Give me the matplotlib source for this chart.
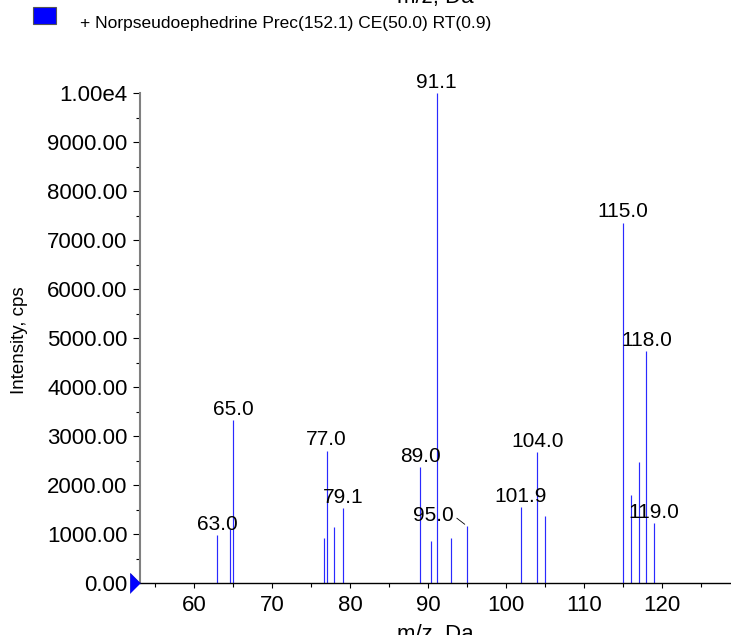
#!/bin/env python3

'''
Product ion spectrum for Norpseudoephedrine (stick plot with peak labels)
'''

import matplotlib
matplotlib.use("Agg")
import matplotlib.pyplot as plt
from matplotlib.patches import Rectangle
from matplotlib.ticker import MultipleLocator, FuncFormatter


##############################################################
# Data
##############################################################
mz = [63.0, 64.6, 65.0, 76.7, 77.0, 77.9, 79.1, 89.0, 90.4, 91.1,
      93.0, 95.0, 101.9, 104.0, 105.0, 115.0, 116.0, 117.0, 118.0, 119.0]
intensity = [980, 1100, 3330, 920, 2710, 1140, 1530, 2370, 870, 10000,
             920, 1170, 1550, 2680, 1380, 7360, 1810, 2480, 4740, 1230]
labeled = [63.0, 65.0, 77.0, 79.1, 89.0, 91.1, 95.0, 101.9, 104.0,
           115.0, 118.0, 119.0]
y_ticks = [0, 1000, 2000, 3000, 4000, 5000, 6000, 7000, 8000, 9000, 10000]

title = "+ Norpseudoephedrine Prec(152.1) CE(50.0) RT(0.9)"

W, H = 731, 635


def ytick_fmt(v, pos):
    '''
    Analyst style intensity labels: 1000.00 ... and 1.00e4 at the top
    '''
    if v >= 10000:
        return "%.2fe4" % (v / 10000.0)
    return "%.2f" % v


##############################################################
# Plot
##############################################################
def spectrum():
    plt.rcParams['font.family'] = ['Liberation Sans', 'DejaVu Sans']

    fig = plt.figure(figsize=(W / 100, H / 100), dpi=100)
    ax = fig.add_axes([140 / W, (H - 583.3) / H, (W - 140) / W, 489.8 / H])

    ax.vlines(mz, 0, intensity, color="#2a2aff", lw=0.85)

    for x, y in zip(mz, intensity):
        if x not in labeled:
            continue
        if x == 95.0:
            # this one is pushed left with a leader line
            ax.annotate("%.1f" % x, xy=(x, y), xytext=(-24, 1),
                        textcoords="offset points", ha="center", va="bottom",
                        fontsize=15,
                        arrowprops=dict(arrowstyle="-", color="black", lw=0.6,
                                        relpos=(1.0, 0.45), shrinkA=0,
                                        shrinkB=2))
        else:
            ax.annotate("%.1f" % x, xy=(x, y), xytext=(0, 1),
                        textcoords="offset points", ha="center", va="bottom",
                        fontsize=15)

    ax.set_xlim(53.08, 128.85)
    ax.set_ylim(0, 10000)

    ax.xaxis.set_major_locator(MultipleLocator(10))
    ax.xaxis.set_minor_locator(MultipleLocator(5))
    ax.set_yticks(y_ticks)
    ax.yaxis.set_minor_locator(MultipleLocator(500))
    ax.yaxis.set_major_formatter(FuncFormatter(ytick_fmt))

    ax.tick_params(axis="both", which="major", labelsize=16, direction="out")
    ax.tick_params(axis="y", which="major", length=5, width=0.8, pad=4)
    ax.tick_params(axis="y", which="minor", length=3.2, width=0.8)
    ax.tick_params(axis="x", which="major", length=3.6, width=0.8, pad=5)
    ax.tick_params(axis="x", which="minor", length=3.0, width=0.8)

    for side in ("top", "right"):
        ax.spines[side].set_visible(False)
    ax.spines["left"].set_color("#808080")
    ax.spines["left"].set_linewidth(1.5)
    ax.spines["bottom"].set_linewidth(1.0)

    # blue pointer at the zero line
    ax.plot([ax.get_xlim()[0]], [0], marker=[(-1, -1), (-1, 1), (0, 0)],
            ms=14.4, color="blue", mec="#0000cc", mew=0.5, clip_on=False,
            zorder=5)

    ax.set_xlabel("m/z, Da", fontsize=16, va="top")
    ax.xaxis.set_label_coords(0.5, -0.083)
    ax.set_ylabel("Intensity, cps", fontsize=13.5)
    ax.yaxis.set_label_coords(-0.19, 0.497)

    # cut off x label of the panel above, plus the legend
    fig.text(435 / W, 1 - 3 / H, "m/z, Da", fontsize=16, ha="center",
             va="baseline")
    fig.patches.append(Rectangle((33 / W, 1 - 24 / H), 23 / W, 17 / H,
                                 transform=fig.transFigure, facecolor="blue",
                                 edgecolor="#555555", lw=0.8))
    fig.text(80 / W, 1 - 28 / H, title, fontsize=12.5, va="baseline")

    fig.savefig("out.png", dpi=100)


##############################################################
# Main
##############################################################
if (__name__ == "__main__"):
    spectrum()
